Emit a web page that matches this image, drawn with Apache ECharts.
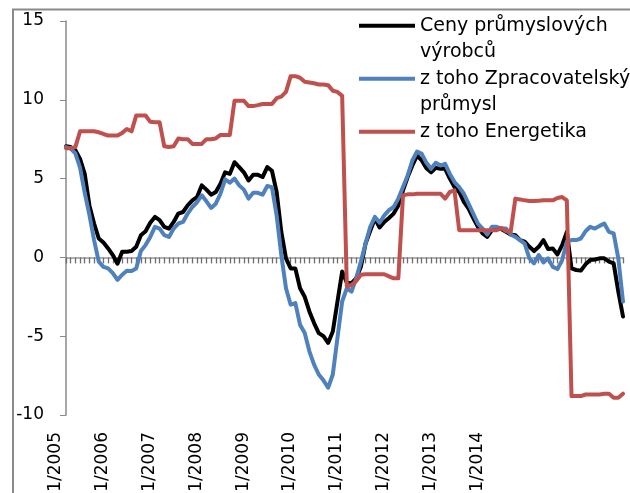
<!DOCTYPE html>
<html>
<head>
<meta charset="utf-8">
<script src="https://cdn.jsdelivr.net/npm/echarts@6/dist/echarts.min.js"></script>
<style>
  html, body { margin: 0; padding: 0; background: #fff; }
  #chart { width: 630px; height: 493px; }
</style>
</head>
<body>
<div id="chart"></div>
<script>
// Monthly categories 1/2005 .. 12/2014
var years = [2005, 2006, 2007, 2008, 2009, 2010, 2011, 2012, 2013, 2014];
var months = [];
years.forEach(function (y) {
  for (var m = 1; m <= 12; m++) months.push(m + '/' + y);
});

// labels printed under the axis (one every 10 categories, as in the original)
var tickLabels = ['1/2005', '1/2006', '1/2007', '1/2008', '1/2009', '1/2010', '1/2011', '1/2012', '1/2013', '1/2014'];

var seriesNames = ['Ceny průmyslových výrobců', 'z toho Zpracovatelský průmysl', 'z toho Energetika'];
// leading/trailing empty lines keep the legend line on the first text row
var legendLabels = ['\nCeny průmyslových\nvýrobců', '\nz toho Zpracovatelský\nprůmysl', '\nz toho Energetika\n'];

var ceny = [
  7.05, 7.0, 6.8, 6.25, 5.3, 3.3, 2.15, 1.2, 0.95, 0.57, 0.15, -0.4,
  0.36, 0.36, 0.4, 0.67, 1.4, 1.66, 2.2, 2.57, 2.36, 1.94, 1.83, 2.25,
  2.78, 2.88, 3.3, 3.62, 3.83, 4.57, 4.3, 3.98, 4.15, 4.67, 5.4, 5.3,
  6.04, 5.73, 5.4, 4.88, 5.24, 5.24, 5.1, 5.73, 5.5, 4.15, 1.62, -0.06,
  -0.7, -0.7, -1.96, -2.5, -3.43, -4.17, -4.8, -5.0, -5.43, -4.7, -2.8, -0.9,
  -1.6, -1.64, -1.33, -0.6, 0.88, 1.68, 2.46, 1.9, 2.25, 2.5, 2.78, 3.3,
  4.25, 5.1, 5.83, 6.46, 6.15, 5.66, 5.4, 5.68, 5.62, 5.62, 5.0, 4.46,
  4.15, 3.52, 3.1, 2.5, 1.94, 1.52, 1.3, 1.73, 1.83, 1.8, 1.62, 1.45,
  1.41, 1.1, 1.0, 0.67, 0.4, 0.67, 1.1, 0.53, 0.57, 0.19, 0.78, 1.62,
  -0.7, -0.8, -0.84, -0.44, -0.17, -0.13, -0.06, -0.06, -0.27, -0.38, -2.17, -3.75
];

var zpracovatelsky = [
  7.0, 6.9, 6.6, 5.7, 4.1, 2.7, 1.1, -0.27, -0.6, -0.7, -1.0, -1.43,
  -1.1, -0.85, -0.86, -0.7, 0.4, 0.78, 1.3, 1.94, 1.83, 1.41, 1.3, 1.83,
  2.15, 2.25, 2.78, 3.2, 3.5, 3.94, 3.56, 3.14, 3.41, 4.04, 4.95, 4.74,
  5.0, 4.57, 4.3, 3.73, 4.1, 4.1, 3.98, 4.53, 4.46, 2.67, 0.15, -1.96,
  -3.0, -2.9, -4.27, -4.8, -5.96, -6.8, -7.43, -7.8, -8.27, -7.43, -5.1, -2.8,
  -1.96, -2.17, -1.33, -0.27, 0.88, 1.94, 2.57, 2.2, 2.67, 3.0, 3.2, 3.73,
  4.46, 5.2, 6.15, 6.72, 6.57, 6.0, 5.62, 6.0, 5.83, 5.94, 5.3, 4.78,
  4.46, 4.04, 3.41, 2.78, 2.15, 1.83, 1.45, 1.94, 1.94, 1.83, 1.83, 1.45,
  1.3, 1.1, 0.88, -0.06, -0.38, 0.15, -0.32, -0.06, -0.6, -0.74, -0.17, 1.0,
  1.1, 1.1, 1.2, 1.66, 1.94, 1.83, 2.0, 2.15, 1.62, 1.52, -0.06, -2.8
];

var energetika = [
  6.93, 6.93, 7.0, 8.0, 8.0, 8.0, 8.0, 7.94, 7.83, 7.73, 7.73, 7.73,
  7.9, 8.15, 8.0, 9.0, 9.0, 9.0, 8.6, 8.57, 8.57, 7.05, 7.0, 7.05,
  7.55, 7.5, 7.5, 7.2, 7.2, 7.2, 7.5, 7.5, 7.55, 7.77, 7.77, 7.77,
  9.94, 9.94, 9.94, 9.6, 9.6, 9.66, 9.73, 9.73, 9.73, 10.1, 10.2, 10.5,
  11.5, 11.5, 11.4, 11.14, 11.1, 11.05, 10.97, 10.97, 10.93, 10.57, 10.5, 10.25,
  -1.85, -1.75, -1.5, -1.1, -1.07, -1.07, -1.07, -1.07, -1.07, -1.2, -1.33, -1.33,
  3.94, 4.0, 4.0, 4.04, 4.04, 4.04, 4.04, 4.04, 4.04, 3.73, 4.15, 4.25,
  1.73, 1.73, 1.73, 1.73, 1.73, 1.73, 1.73, 1.73, 1.73, 1.87, 1.66, 1.62,
  3.73, 3.68, 3.62, 3.58, 3.58, 3.6, 3.62, 3.62, 3.62, 3.77, 3.83, 3.62,
  -8.8, -8.8, -8.8, -8.7, -8.7, -8.7, -8.7, -8.65, -8.65, -8.9, -8.9, -8.65
];

var colors = ['#000000', '#4F81BD', '#C0504D'];
var font = 'DejaVu Sans';
var LH = 26.5;

var chart = echarts.init(document.getElementById('chart'));

function lineSeries(idx, data) {
  return {
    name: seriesNames[idx],
    type: 'line',
    xAxisIndex: 0,
    data: data,
    showSymbol: false,
    symbol: 'none',
    lineStyle: { color: colors[idx], width: 4, join: 'round', cap: 'round' },
    itemStyle: { color: colors[idx] },
    z: 3 + idx
  };
}

var option = {
  animation: false,
  backgroundColor: '#fff',
  title: {
    text: 'Graf 1: Ceny průmyslových výrobců (y/y, %)',
    right: 22,
    top: -22,
    padding: 0,
    textStyle: { fontFamily: font, fontSize: 23, fontWeight: 'bold', color: '#000' }
  },
  graphic: [{
    type: 'rect',
    silent: true,
    z: -1,
    shape: { x: 13, y: 9.5, width: 700, height: 600 },
    style: { fill: 'none', stroke: '#8a8a8a', lineWidth: 2 }
  }],
  legend: {
    orient: 'vertical',
    left: 359,
    top: -14,
    padding: 0,
    itemGap: -LH,
    itemWidth: 56,
    itemHeight: 4,
    icon: 'rect',
    textStyle: { fontFamily: font, fontSize: 19, color: '#000', lineHeight: LH },
    formatter: function (name) { return legendLabels[seriesNames.indexOf(name)]; },
    data: seriesNames
  },
  grid: { left: 66, right: 7, top: 21, bottom: 78, outerBoundsMode: 'none' },
  xAxis: [{
    type: 'category',
    data: months,
    boundaryGap: false,
    axisLine: { onZero: true, lineStyle: { color: '#999999', width: 1.5 } },
    axisTick: { show: true, interval: 0, length: 6, lineStyle: { color: '#6e6e6e', width: 1.3 } },
    axisLabel: { show: false },
    splitLine: { show: false }
  }, {
    type: 'category',
    data: months,
    boundaryGap: false,
    position: 'bottom',
    axisLine: { show: false, onZero: false },
    axisTick: { show: false },
    axisLabel: {
      interval: 9,
      rotate: 90,
      margin: 17,
      fontFamily: font,
      fontSize: 17,
      lineHeight: 20,
      color: '#000',
      // empty second row nudges the rotated label left, like the original
      formatter: function (val, idx) {
        var t = tickLabels[Math.round(idx / 10)];
        return t ? t + '\n' : '';
      }
    },
    splitLine: { show: false }
  }],
  yAxis: {
    type: 'value',
    min: -10,
    max: 15,
    interval: 5,
    axisLine: { show: true, lineStyle: { color: '#8a8a8a', width: 1.5 } },
    axisTick: { show: true, length: 6, lineStyle: { color: '#8a8a8a' } },
    axisLabel: { margin: 22, fontFamily: font, fontSize: 17, color: '#000' },
    splitLine: { show: false }
  },
  series: [
    lineSeries(0, ceny),
    lineSeries(1, zpracovatelsky),
    lineSeries(2, energetika)
  ]
};

chart.setOption(option);
</script>
</body>
</html>
